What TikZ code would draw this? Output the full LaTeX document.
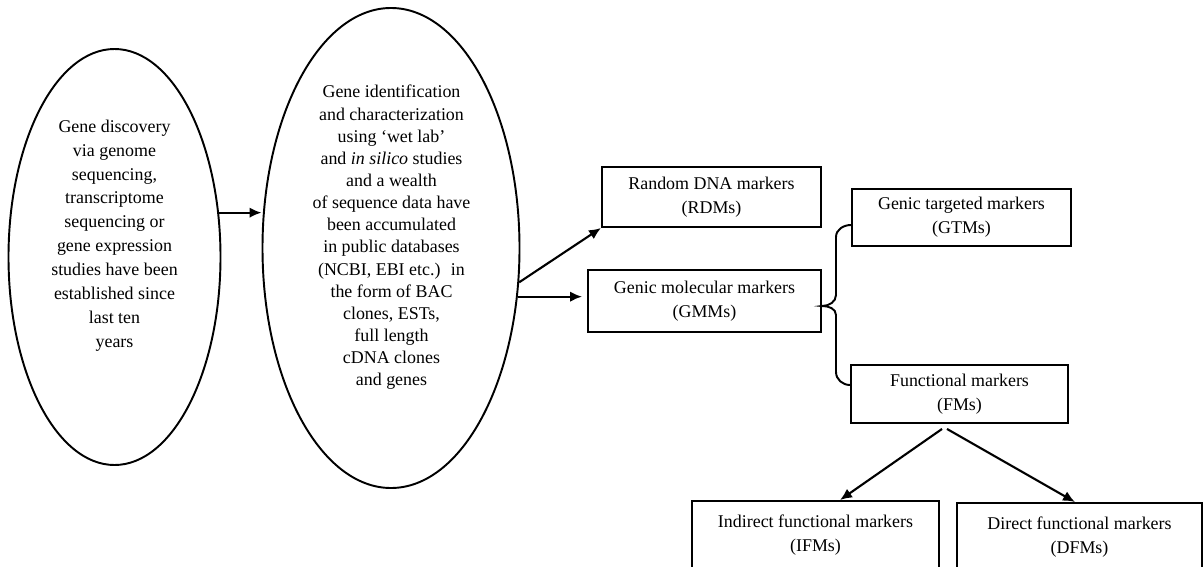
\documentclass[tikz,border=0pt]{standalone}
\usepackage{fontspec}
\setmainfont{Liberation Serif}
\usetikzlibrary{shapes.geometric,arrows.meta}
\tikzset{
  oval/.style={draw, ellipse, line width=1.1pt, inner sep=0pt},
  ovaltext/.style={align=center, inner sep=0pt},
  mbox/.style={draw, rectangle, line width=1.1pt, inner sep=0pt, align=center,
    font=\fontsize{10.2}{13.6}\selectfont},
  arr/.style={line width=1.2pt, -{Latex[length=2.4mm,width=2.1mm]}},
  brace/.style={line width=1.1pt},
}
\begin{document}
\begin{tikzpicture}[x=0.2mm,y=0.2mm]
          \useasboundingbox (0,0) rectangle (1204,566);
          % the two ovals
          \node[oval, minimum width=42.4mm, minimum height=83.2mm] at (114.5,309) (e1) {};
          \node[ovaltext, font=\fontsize{10.2}{13.6}\selectfont] at (114.5,330.5) (e1txt) {Gene discovery\\via genome\\sequencing,\\transcriptome\\sequencing or\\gene expression\\studies have been\\established since\\last ten\\years};
          \node[oval, minimum width=51.4mm, minimum height=96mm] at (391,318) (e2) {};
          \node[ovaltext, font=\fontsize{10.2}{12.6}\selectfont] at (391.5,328.5) (e2txt) {Gene identification\\and characterization\\using ‘wet lab’\\and \textit{in silico} studies\\and a wealth\\of sequence data have\\been accumulated\\in public databases\\(NCBI, EBI etc.)~ in\\the form of BAC\\clones, ESTs,\\full length\\cDNA clones\\and genes};
          % marker boxes
          \node[mbox, minimum width=43.8mm, minimum height=12mm] at (711.5,369) (rdm) {Random DNA markers\\(RDMs)};
          \node[mbox, minimum width=46.6mm, minimum height=12.4mm] at (704.5,265) (gmm) {Genic molecular markers\\(GMMs)};
          \node[mbox, minimum width=43.8mm, minimum height=11.4mm] at (961.5,348.5) (gtm) {Genic targeted markers\\(GTMs)};
          \node[mbox, minimum width=43.4mm, minimum height=11.6mm] at (959.5,172) (fm) {Functional markers\\(FMs)};
          \node[mbox, minimum width=49.4mm, minimum height=13.6mm] at (815.5,31) (ifm) {Indirect functional markers\\(IFMs)};
          \node[mbox, minimum width=49mm, minimum height=13.6mm] at (1079.5,29) (dfm) {Direct functional markers\\(DFMs)};
          % arrows
          \path[arr] (e1.23) edge (e1.23 -| e2.west);
          \path[arr] (e2.-15) edge (rdm.south west);
          \path[arr, shorten >=1mm] (e2.-21) edge (e2.-21 -| gmm.west);
          \path[arr] ([xshift=-3.5mm,yshift=-1mm]fm.south) edge ([xshift=4.9mm]ifm.north);
          \path[arr] ([xshift=-2.5mm,yshift=-1mm]fm.south) edge ([xshift=-0.9mm]dfm.north);
          % brace
          \draw[brace] ([yshift=-1.5mm]gtm.west) to[out=180,in=90] (836,329) -- (836,271)
            to[out=-90,in=0] ([yshift=-1mm]gmm.east) to[out=0,in=90] (836,251) -- (836,194)
            to[out=-90,in=180] ([yshift=1.8mm]fm.west);
        \end{tikzpicture}
\end{document}
